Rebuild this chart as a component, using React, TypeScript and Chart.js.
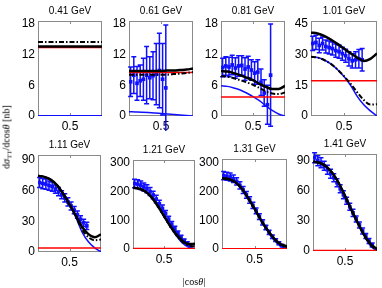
import React, { useEffect, useRef } from 'react';
import { Chart, registerables } from 'chart.js';

Chart.register(...registerables);

// ---------- data ----------
const TITLES = ['0.41 GeV', '0.61 GeV', '0.81 GeV', '1.01 GeV', '1.11 GeV', '1.21 GeV', '1.31 GeV', '1.41 GeV'];
const X_TICKS = [0.5];
const Y_TICKS_18 = [0, 6, 12, 18];
const Y_TICKS_45 = [0, 15, 30, 45];
const Y_TICKS_90 = [0, 30, 60, 90];
const Y_TICKS_300 = [0, 100, 200, 300];

const CURVE_X = [0, 0.1, 0.2, 0.3, 0.4, 0.5, 0.6, 0.7, 0.8, 0.9, 1.0];
const RED_X = [0, 1];
const DATA_X_12 = [0.025, 0.075, 0.125, 0.175, 0.225, 0.275, 0.325, 0.375, 0.425, 0.475, 0.525, 0.575];
const DATA_X_16 = [0.025, 0.075, 0.125, 0.175, 0.225, 0.275, 0.325, 0.375, 0.425, 0.475, 0.525, 0.575, 0.625, 0.675, 0.725, 0.775];
const DATA_X_19 = [0.025, 0.075, 0.125, 0.175, 0.225, 0.275, 0.325, 0.375, 0.425, 0.475, 0.525, 0.575, 0.625, 0.675, 0.725, 0.775, 0.825, 0.875, 0.925];

// 0.41 GeV
const W041_FULL = [13.6, 13.6, 13.6, 13.6, 13.6, 13.6, 13.6, 13.6, 13.6, 13.6, 13.6];
const W041_DASH = [14.5, 14.5, 14.5, 14.5, 14.5, 14.5, 14.5, 14.5, 14.5, 14.5, 14.5];
const W041_BLUE = [0.05, 0.05, 0.05, 0.05, 0.05, 0.05, 0.05, 0.05, 0.05, 0.05, 0.05];
const W041_RED = [13.4, 13.4];

// 0.61 GeV
const W061_FULL = [8.8, 8.8, 8.8, 8.8, 8.8, 8.8, 8.9, 8.9, 9.0, 9.1, 9.3];
const W061_DASH = [8.1, 8.1, 8.1, 8.1, 8.1, 8.1, 8.1, 8.2, 8.3, 8.4, 8.6];
const W061_BLUE = [0.85, 0.8, 0.75, 0.68, 0.6, 0.5, 0.4, 0.3, 0.2, 0.1, 0.0];
const W061_RED = [8.5, 8.5];
const W061_VAL = [6.7, 8.0, 6.4, 6.9, 7.2, 8.0, 7.5, 7.9, 8.2, 8.9, 7.2, 5.5];
const W061_ERR = [2.9, 3.6, 3.3, 3.1, 4.1, 5.6, 4.1, 4.7, 6.0, 7.3, 7.0, 12.3];

// 0.81 GeV
const W081_FULL = [8.8, 8.7, 8.4, 8.0, 7.5, 7.0, 6.3, 5.7, 5.3, 5.3, 5.9];
const W081_DASH = [7.8, 7.7, 7.4, 7.0, 6.6, 6.1, 5.5, 4.8, 4.4, 4.3, 4.6];
const W081_BLUE = [5.9, 5.8, 5.5, 5.1, 4.5, 3.8, 3.0, 2.0, 1.1, 0.4, 0.0];
const W081_RED = [3.7, 3.7];
const W081_VAL = [9.5, 9.8, 9.6, 10.0, 9.4, 9.8, 9.9, 9.2, 9.6, 9.0, 8.4, 8.6, 6.6, 4.5, 2.2, 8.0];
const W081_ERR = [1.8, 1.8, 1.9, 1.9, 2.0, 2.0, 1.9, 2.2, 2.1, 2.0, 2.2, 2.4, 2.6, 2.6, 3.8, 10.0];

// 1.01 GeV
const W101_FULL = [40.8, 40.4, 39.2, 37.4, 35.3, 33.0, 30.7, 28.6, 26.9, 28.0, 30.6];
const W101_DASH = [29.0, 28.6, 27.4, 25.5, 22.8, 19.5, 15.8, 11.6, 7.8, 5.6, 5.8];
const W101_BLUE = [29.0, 28.6, 27.4, 25.5, 22.8, 19.3, 15.0, 9.6, 5.5, 2.5, 0.0];
const W101_RED = [17.3, 17.3];
const W101_VAL = [35.5, 36.0, 34.5, 35.5, 34.0, 33.5, 33.0, 32.0, 31.5, 30.5, 29.5, 28.0, 27.0, 27.5, 28.0, 27.5];
const W101_ERR = [3.5, 3.5, 3.5, 3.2, 3.2, 3.2, 3.2, 3.2, 3.2, 3.2, 3.2, 3.5, 3.5, 4.0, 4.5, 5.5];

// 1.11 GeV
const W111_FULL = [74.5, 73.5, 70.8, 65.5, 57.0, 46.5, 35.5, 24.5, 17.5, 14.5, 17.3];
const W111_DASH = [74.5, 73.5, 70.8, 65.5, 57.0, 46.5, 35.0, 22.0, 14.5, 11.5, 12.2];
const W111_BLUE = [74.5, 73.5, 70.8, 65.5, 57.0, 46.5, 34.0, 19.5, 10.0, 4.0, 0.0];
const W111_RED = [4.0, 4.0];
const W111_VAL = [68, 67, 66.5, 65, 64, 61.5, 59, 56, 53, 49, 45, 41, 36.5, 32, 28.5, 25.5];
const W111_ERR = [5, 5, 5, 4.5, 4.5, 4, 4, 4, 4, 4, 4, 3.5, 3.5, 3.5, 3.5, 3.5];

// 1.21 GeV
const W121_FULL = [213, 210, 200, 180, 150, 115, 80, 50, 28, 17, 18];
const W121_DASH = [213, 210, 200, 180, 150, 115, 80, 49, 25, 12, 9];
const W121_BLUE = [213, 210, 200, 180, 150, 115, 79, 46, 20, 6, 0];
const W121_RED = [2, 2];
const W121_VAL = [228, 226, 222, 216, 210, 200, 188, 174, 158, 141, 123, 104, 86, 70, 55, 41, 29, 19, 12];
const W121_ERR = [15, 15, 15, 14, 14, 14, 13, 13, 12, 12, 11, 10, 10, 9, 8, 7, 6, 6, 5];

// 1.31 GeV
const W131_FULL = [247, 244, 234, 212, 178, 141, 101, 66, 37, 17, 9];
const W131_DASH = [247, 244, 234, 212, 178, 141, 101, 65, 35, 14, 6];
const W131_BLUE = [247, 244, 234, 212, 178, 141, 100, 63, 31, 10, 0];
const W131_RED = [1, 1];
const W131_VAL = [256, 254, 251, 245, 236, 222, 206, 189, 171, 152, 133, 113, 93, 75, 58, 43, 31, 20, 12];
const W131_ERR = [14, 14, 14, 13, 13, 13, 12, 12, 11, 11, 10, 10, 9, 8, 7, 6, 5, 5, 4];

// 1.41 GeV
const W141_FULL = [89, 88, 84.5, 78, 68, 55, 41, 28, 16, 7, 2];
const W141_DASH = [89, 88, 84.5, 78, 68, 55, 41, 28, 15.5, 6, 1];
const W141_BLUE = [89, 88, 84.5, 78, 68, 55, 41, 27.5, 15, 5, 0];
const W141_RED = [0.5, 0.5];
const W141_VAL = [93, 90, 88, 85, 81, 77, 73, 68, 62, 56, 50, 44, 38, 32, 26, 20, 15, 10, 6];
const W141_ERR = [5, 5, 5, 4.5, 4.5, 4.5, 4, 4, 4, 4, 3.5, 3.5, 3.5, 3, 3, 3, 2.5, 2.5, 2];

// ---------- layout (plot frame in page px: left, top, right, bottom) ----------
const PANELS = [
  { title: TITLES[0], box: [38, 21, 102, 116], yMax: 18.6, yTicks: Y_TICKS_18, full: W041_FULL, dash: W041_DASH, blue: W041_BLUE, red: W041_RED, dx: null, val: null, err: null },
  { title: TITLES[1], box: [129, 21, 194, 116], yMax: 18.6, yTicks: Y_TICKS_18, full: W061_FULL, dash: W061_DASH, blue: W061_BLUE, red: W061_RED, dx: DATA_X_12, val: W061_VAL, err: W061_ERR },
  { title: TITLES[2], box: [221, 21, 286, 116], yMax: 18.6, yTicks: Y_TICKS_18, full: W081_FULL, dash: W081_DASH, blue: W081_BLUE, red: W081_RED, dx: DATA_X_16, val: W081_VAL, err: W081_ERR },
  { title: TITLES[3], box: [311, 21, 378, 116], yMax: 46.5, yTicks: Y_TICKS_45, full: W101_FULL, dash: W101_DASH, blue: W101_BLUE, red: W101_RED, dx: DATA_X_16, val: W101_VAL, err: W101_ERR },
  { title: TITLES[4], box: [38, 155, 102, 252], yMax: 94.9, yTicks: Y_TICKS_90, full: W111_FULL, dash: W111_DASH, blue: W111_BLUE, red: W111_RED, dx: DATA_X_16, val: W111_VAL, err: W111_ERR },
  { title: TITLES[5], box: [133, 160, 196, 249], yMax: 310, yTicks: Y_TICKS_300, full: W121_FULL, dash: W121_DASH, blue: W121_BLUE, red: W121_RED, dx: DATA_X_19, val: W121_VAL, err: W121_ERR },
  { title: TITLES[6], box: [222, 159, 288, 249], yMax: 314, yTicks: Y_TICKS_300, full: W131_FULL, dash: W131_DASH, blue: W131_BLUE, red: W131_RED, dx: DATA_X_19, val: W131_VAL, err: W131_ERR },
  { title: TITLES[7], box: [313, 154, 378, 251], yMax: 96.7, yTicks: Y_TICKS_90, full: W141_FULL, dash: W141_DASH, blue: W141_BLUE, red: W141_RED, dx: DATA_X_19, val: W141_VAL, err: W141_ERR },
];

const AXIS_W = 36;
const TITLE_H = 18;
const XAXIS_H = 20;
const RIGHT_PAD = 3;
const BLUE = '#1010ff';
const SANS = '"Liberation Sans", Arial, sans-serif';

const framePlugin = {
  id: 'boxframe',
  beforeDatasetsDraw(chart: any) {
    const { ctx, chartArea: a } = chart;
    ctx.save();
    ctx.strokeStyle = '#8a8a8a';
    ctx.lineWidth = 1;
    ctx.strokeRect(a.left + 0.5, a.top + 0.5, a.width - 1, a.height - 1);
    const xs = chart.scales.x;
    ctx.beginPath();
    X_TICKS.forEach((v) => {
      const px = Math.round(xs.getPixelForValue(v)) + 0.5;
      ctx.moveTo(px, a.bottom);
      ctx.lineTo(px, a.bottom - 3);
      ctx.moveTo(px, a.top);
      ctx.lineTo(px, a.top + 3);
    });
    ctx.stroke();
    ctx.restore();
  },
};

const errorBarPlugin = {
  id: 'errbars',
  beforeDatasetDraw(chart: any, args: any) {
    const ds = chart.data.datasets[args.index];
    if (!ds.errors) return;
    const { ctx, chartArea: a } = chart;
    const xs = chart.scales.x;
    const ys = chart.scales.y;
    ctx.save();
    ctx.beginPath();
    ctx.rect(a.left - 4, 0, a.width + 8, a.bottom + 15);
    ctx.clip();
    ctx.strokeStyle = BLUE;
    ctx.lineWidth = 1.5;
    ctx.beginPath();
    ds.data.forEach((p: any, i: number) => {
      const e = ds.errors[i];
      const px = xs.getPixelForValue(p.x);
      const y1 = ys.getPixelForValue(p.y + e);
      const y2 = ys.getPixelForValue(p.y - e);
      ctx.moveTo(px, y1);
      ctx.lineTo(px, y2);
      ctx.moveTo(px - 2.5, y1);
      ctx.lineTo(px + 2.5, y1);
      ctx.moveTo(px - 2.5, y2);
      ctx.lineTo(px + 2.5, y2);
    });
    ctx.stroke();
    ctx.restore();
  },
};

const pts = (xs: number[], ys: number[]) => xs.map((x, i) => ({ x, y: ys[i] }));

function Panel({ cfg }: { cfg: any }) {
  const ref = useRef<HTMLCanvasElement | null>(null);
  const [L, T, R, B] = cfg.box;
  const w = R - L + AXIS_W + RIGHT_PAD;
  const h = B - T + TITLE_H + XAXIS_H;

  useEffect(() => {
    const curve = (ys: number[], xs: number[], color: string, width: number, dash: number[] = []) => ({
      data: pts(xs, ys),
      showLine: true,
      borderColor: color,
      backgroundColor: color,
      borderWidth: width,
      borderDash: dash,
      pointRadius: 0,
      cubicInterpolationMode: 'monotone',
      fill: false,
    });
    const datasets: any[] = [
      curve(cfg.full, CURVE_X, '#000000', 2.5),
      curve(cfg.dash, CURVE_X, '#000000', 2.0, [5, 2, 1.5, 2]),
      curve(cfg.red, RED_X, '#ff0000', 1.5),
      curve(cfg.blue, CURVE_X, BLUE, 1.5),
    ];
    if (cfg.dx) {
      datasets.push({
        data: pts(cfg.dx, cfg.val),
        errors: cfg.err,
        showLine: false,
        pointStyle: 'rect',
        pointRadius: 2.6,
        borderWidth: 0,
        backgroundColor: BLUE,
        borderColor: BLUE,
      });
    }
    const chart = new Chart(ref.current as HTMLCanvasElement, {
      type: 'scatter',
      data: { datasets },
      options: {
        animation: false,
        responsive: false,
        devicePixelRatio: 1,
        layout: { padding: { left: 0, right: RIGHT_PAD, top: 0, bottom: 0 } },
        plugins: {
          legend: { display: false },
          tooltip: { enabled: false },
          title: {
            display: true,
            text: cfg.title,
            fullSize: false,
            color: '#000',
            font: { size: 10, family: SANS, weight: 'normal' },
            padding: { top: 2, bottom: 4 },
          },
        },
        scales: {
          x: {
            type: 'linear',
            min: 0,
            max: 1,
            grid: { display: false, drawTicks: false, tickLength: 0 },
            border: { display: false },
            ticks: { color: '#000', font: { size: 12, family: SANS }, padding: 3, maxRotation: 0 },
            afterBuildTicks: (s: any) => { s.ticks = X_TICKS.map((v) => ({ value: v })); },
            afterFit: (s: any) => { s.height = XAXIS_H; },
          },
          y: {
            type: 'linear',
            min: 0,
            max: cfg.yMax,
            grid: { display: false, drawTicks: false, tickLength: 0 },
            border: { display: false },
            ticks: { color: '#000', font: { size: 12, family: SANS }, padding: 3 },
            afterBuildTicks: (s: any) => { s.ticks = cfg.yTicks.map((v: number) => ({ value: v })); },
            afterFit: (s: any) => { s.width = AXIS_W; },
          },
        },
      } as any,
      plugins: [framePlugin, errorBarPlugin],
    });
    return () => chart.destroy();
  }, []);

  return (
    <canvas
      ref={ref}
      width={w}
      height={h}
      style={{ position: 'absolute', left: L - AXIS_W, top: T - TITLE_H, width: w, height: h }}
    />
  );
}

export default function App() {
  return (
    <div style={{ position: 'fixed', left: 0, top: 0, width: 382, height: 288, background: '#fff', overflow: 'hidden' }}>
      {PANELS.map((p, i) => (
        <Panel key={i} cfg={p} />
      ))}
      <div
        style={{
          position: 'absolute',
          left: 7,
          top: 137,
          transform: 'translate(-50%, -50%) rotate(-90deg)',
          whiteSpace: 'nowrap',
          fontFamily: '"Liberation Serif", "DejaVu Serif", serif',
          fontSize: 10,
          lineHeight: '12px',
          color: '#000',
        }}
      >
        d<i>σ</i>
        <span style={{ fontSize: 7, position: 'relative', top: 2 }}>TT</span>
        /dcos<i>θ</i> [nb]
      </div>
      <div
        style={{
          position: 'absolute',
          left: 194,
          top: 282,
          transform: 'translate(-50%, -50%)',
          whiteSpace: 'nowrap',
          fontFamily: '"Liberation Serif", "DejaVu Serif", serif',
          fontSize: 10,
          lineHeight: '12px',
          color: '#000',
        }}
      >
        |cos<i>θ</i>|
      </div>
    </div>
  );
}
